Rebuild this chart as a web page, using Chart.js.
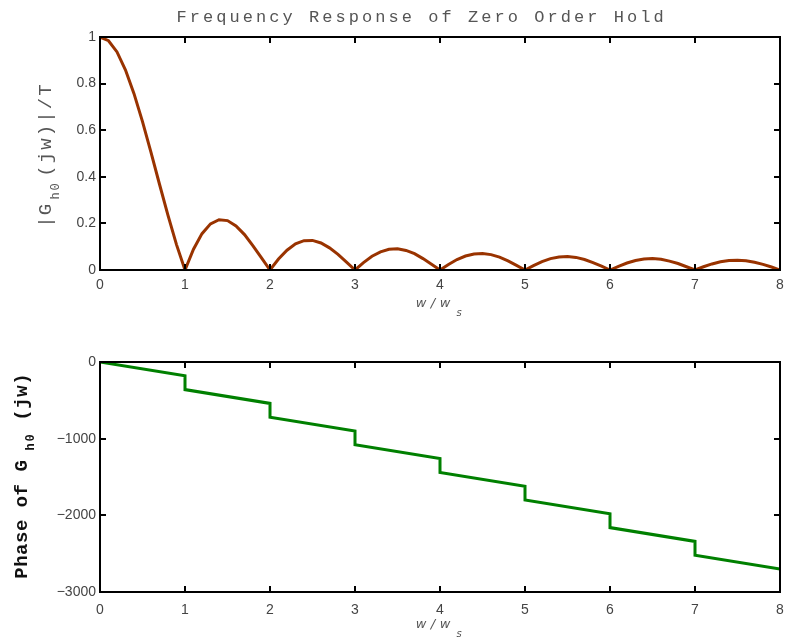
<!DOCTYPE html>
<html>
<head>
<meta charset="utf-8">
<script src="https://cdn.jsdelivr.net/npm/chart.js@4"></script>
<style>
  body { margin: 0; background: #fff; width: 787px; height: 644px; overflow: hidden; }
  canvas { position: absolute; left: 0; }
  #mag { top: 0; }
  #phase { top: 322px; }
</style>
</head>
<body>
<canvas id="mag" width="787" height="322"></canvas>
<canvas id="phase" width="787" height="322"></canvas>
<script>
// w/ws sample points for the magnitude curve
const magFreq = [
  0, 0.1, 0.2, 0.3, 0.4, 0.5, 0.6, 0.7, 0.8, 0.9,
  1, 1.1, 1.2, 1.3, 1.4, 1.5, 1.6, 1.7, 1.8, 1.9,
  2, 2.1, 2.2, 2.3, 2.4, 2.5, 2.6, 2.7, 2.8, 2.9,
  3, 3.1, 3.2, 3.3, 3.4, 3.5, 3.6, 3.7, 3.8, 3.9,
  4, 4.1, 4.2, 4.3, 4.4, 4.5, 4.6, 4.7, 4.8, 4.9,
  5, 5.1, 5.2, 5.3, 5.4, 5.5, 5.6, 5.7, 5.8, 5.9,
  6, 6.1, 6.2, 6.3, 6.4, 6.5, 6.6, 6.7, 6.8, 6.9,
  7, 7.1, 7.2, 7.3, 7.4, 7.5, 7.6, 7.7, 7.8, 7.9,
  8
];
// |Gh0(jw)|/T
const magValues = [
  1, 0.984, 0.936, 0.858, 0.757, 0.637, 0.505, 0.368, 0.234, 0.109,
  0, 0.089, 0.156, 0.198, 0.216, 0.212, 0.189, 0.152, 0.104, 0.052,
  0, 0.047, 0.085, 0.112, 0.126, 0.127, 0.116, 0.095, 0.067, 0.034,
  0, 0.032, 0.059, 0.078, 0.089, 0.091, 0.084, 0.070, 0.049, 0.025,
  0, 0.024, 0.045, 0.060, 0.069, 0.071, 0.066, 0.055, 0.039, 0.020,
  0, 0.019, 0.036, 0.049, 0.056, 0.058, 0.054, 0.045, 0.032, 0.017,
  0, 0.016, 0.030, 0.041, 0.047, 0.049, 0.046, 0.038, 0.028, 0.014,
  0, 0.014, 0.026, 0.035, 0.041, 0.042, 0.040, 0.033, 0.024, 0.013,
  0
];

// phase, degrees (jumps at each multiple of ws)
const phaseFreq   = [0, 1, 1, 2, 2, 3, 3, 4, 4, 5, 5, 6, 6, 7, 7, 8];
const phaseValues = [0, -180, -360, -540, -720, -900, -1080, -1260, -1440,
                     -1620, -1800, -1980, -2160, -2340, -2520, -2700];

const xTicks     = [0, 1, 2, 3, 4, 5, 6, 7, 8];
const magTicks   = [0, 0.2, 0.4, 0.6, 0.8, 1];
const phaseTicks = [-3000, -2000, -1000, 0];

const MONO = '"Liberation Mono", "DejaVu Sans Mono", monospace';
const SANS = '"Liberation Sans", Arial, sans-serif';

function toPoints(xs, ys) {
  return xs.map((x, i) => ({ x, y: ys[i] }));
}

// draw characters one by one with a fixed pitch, centred at each step
function spaced(ctx, text, x, y, pitch) {
  ctx.textAlign = 'center';
  for (let i = 0; i < text.length; i++) {
    ctx.fillText(text[i], x + i * pitch, y);
  }
}

// box around plot area with inward ticks on all sides
const boxFrame = {
  id: 'boxFrame',
  afterDraw(chart) {
    const { ctx, chartArea: a, scales } = chart;
    ctx.save();
    ctx.strokeStyle = '#000';
    ctx.lineWidth = 2;
    ctx.strokeRect(a.left, a.top, a.right - a.left, a.bottom - a.top);
    ctx.beginPath();
    scales.x.ticks.forEach(t => {
      const px = Math.round(scales.x.getPixelForValue(t.value));
      ctx.moveTo(px, a.bottom); ctx.lineTo(px, a.bottom - 6);
      ctx.moveTo(px, a.top);    ctx.lineTo(px, a.top + 6);
    });
    scales.y.ticks.forEach(t => {
      const py = Math.round(scales.y.getPixelForValue(t.value));
      ctx.moveTo(a.left, py);  ctx.lineTo(a.left + 6, py);
      ctx.moveTo(a.right, py); ctx.lineTo(a.right - 6, py);
    });
    ctx.stroke();
    ctx.restore();
  }
};

function xTitle(ctx, base) {
  ctx.fillStyle = '#555';
  ctx.font = 'italic 13px "DejaVu Sans", sans-serif';
  spaced(ctx, 'w/w', 421, base, 12);
  ctx.font = 'italic 10px "DejaVu Sans", sans-serif';
  ctx.fillText('s', 459, base + 9);
}

const magLabels = {
  id: 'magLabels',
  afterDraw(chart) {
    const ctx = chart.ctx;
    ctx.save();
    ctx.fillStyle = '#555';
    ctx.textBaseline = 'alphabetic';
    ctx.font = '17px ' + MONO;
    spaced(ctx, 'Frequency Response of Zero Order Hold', 181.5, 22, 13.25);

    xTitle(ctx, 307);

    // rotated y label
    ctx.translate(51, 0);
    ctx.rotate(-Math.PI / 2);
    ctx.font = '19px ' + MONO;
    spaced(ctx, '|G', -222, 0, 12.5);
    ctx.font = '12px ' + MONO;
    spaced(ctx, 'h0', -196, 8, 9);
    ctx.font = '19px ' + MONO;
    spaced(ctx, '(jw)|/T', -171, 0, 13.5);
    ctx.restore();
  }
};

const phaseLabels = {
  id: 'phaseLabels',
  afterDraw(chart) {
    const ctx = chart.ctx;
    ctx.save();
    ctx.textBaseline = 'alphabetic';
    xTitle(ctx, 306);

    ctx.fillStyle = '#111';
    ctx.translate(27, 0);
    ctx.rotate(-Math.PI / 2);
    ctx.font = 'bold 19px ' + MONO;
    spaced(ctx, 'Phase of G', -573 + 322, 0, 11.9);
    ctx.font = 'bold 12px ' + MONO;
    spaced(ctx, 'h0', -447 + 322, 7, 9);
    ctx.font = 'bold 19px ' + MONO;
    spaced(ctx, '(jw)', -415 + 322, 0, 12);
    ctx.restore();
  }
};

function fmtNum(v) {
  const s = String(+v.toFixed(1));
  return s.replace('-', '\u2212');
}

function noPad(s) {
  s.paddingLeft = 0; s.paddingRight = 0;
  s.paddingTop = 0; s.paddingBottom = 0;
}

function makeScales(yMin, yMax, yTickList, xPad) {
  return {
    x: {
      type: 'linear',
      min: 0, max: 8,
      afterBuildTicks: s => { s.ticks = xTicks.map(v => ({ value: v })); },
      ticks: { padding: xPad, color: '#444', font: { family: SANS, size: 14 },
               maxRotation: 0, autoSkip: false, callback: v => fmtNum(v) },
      grid: { display: false, drawTicks: false },
      border: { display: false },
      afterFit: s => { s.height = 52; noPad(s); }
    },
    y: {
      min: yMin, max: yMax,
      afterBuildTicks: s => { s.ticks = yTickList.map(v => ({ value: v })); },
      ticks: { padding: 4, color: '#444', font: { family: SANS, size: 14 },
               autoSkip: false, callback: v => fmtNum(v) },
      grid: { display: false, drawTicks: false },
      border: { display: false },
      afterFit: s => { s.width = 100; noPad(s); }
    }
  };
}

new Chart(document.getElementById('mag'), {
  type: 'line',
  data: {
    datasets: [{
      data: toPoints(magFreq, magValues),
      borderColor: '#993300',
      borderWidth: 3,
      pointRadius: 0,
      tension: 0,
      fill: false
    }]
  },
  options: {
    responsive: false,
    animation: false,
    layout: { padding: { top: 37, right: 7, left: 0, bottom: 0 } },
    plugins: { legend: { display: false }, tooltip: { enabled: false } },
    scales: makeScales(0, 1, magTicks, 7)
  },
  plugins: [boxFrame, magLabels]
});

new Chart(document.getElementById('phase'), {
  type: 'line',
  data: {
    datasets: [{
      data: toPoints(phaseFreq, phaseValues),
      borderColor: '#008000',
      borderWidth: 3,
      pointRadius: 0,
      tension: 0,
      fill: false
    }]
  },
  options: {
    responsive: false,
    animation: false,
    layout: { padding: { top: 40, right: 7, left: 0, bottom: 0 } },
    plugins: { legend: { display: false }, tooltip: { enabled: false } },
    scales: makeScales(-3000, 0, phaseTicks, 10)
  },
  plugins: [boxFrame, phaseLabels]
});
</script>
</body>
</html>
